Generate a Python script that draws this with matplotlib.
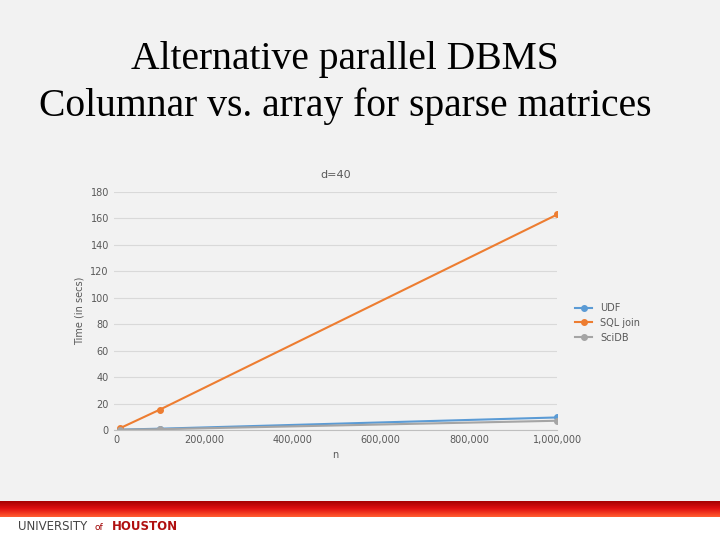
import matplotlib
matplotlib.use("Agg")
import matplotlib.pyplot as plt
from matplotlib.patches import Rectangle
from matplotlib.ticker import FuncFormatter
import numpy as np

# ---------------- data ----------------
n_values = [10000, 100000, 1000000]
udf = [0.3, 1.0, 9.5]
sql_join = [1.5, 15.5, 163]
scidb = [0.2, 0.6, 7.0]

BG = "#f2f2f2"
fig = plt.figure(figsize=(7.2, 5.4), dpi=100)
fig.patch.set_facecolor("white")

# slide background + red band + footer
fig.patches.append(Rectangle((0, 1 - 500 / 540), 1, 500 / 540, transform=fig.transFigure,
                             color=BG, zorder=-3))
band = np.linspace(0, 1, 20)[:, None]
bax = fig.add_axes([0, 1 - 517 / 540, 1, 16 / 540])
bax.imshow(band, aspect="auto", cmap=matplotlib.colors.LinearSegmentedColormap.from_list(
    "r", ["#a00000", "#e01010", "#ff5a30"]))
bax.axis("off")
fig.text(0.025, 1 - 526 / 540, "UNIVERSITY", fontsize=8.5, color="#444", va="center")
fig.text(0.131, 1 - 527 / 540, "of", fontsize=6.5, color="#a00000", va="center")
fig.text(0.155, 1 - 526 / 540, "HOUSTON", fontsize=8.5, color="#b01010",
         fontweight="bold", va="center")

fig.text(0.479, 1 - 60 / 540, "Alternative parallel DBMS", family="Liberation Serif",
         fontsize=28.5, ha="center", va="center")
fig.text(0.479, 1 - 106 / 540, "Columnar vs. array for sparse matrices",
         family="Liberation Serif", fontsize=28.5, ha="center", va="center")

# ---------------- chart ----------------
ax = fig.add_axes([0.158, 1 - 430 / 540, 0.616, 238 / 540])
ax.set_facecolor(BG)
ax.plot(n_values, udf, "-o", color="#5b9bd5", lw=1.5, ms=4, label="UDF")
ax.plot(n_values, sql_join, "-o", color="#ed7d31", lw=1.5, ms=4, label="SQL join")
ax.plot(n_values, scidb, "-o", color="#a5a5a5", lw=1.5, ms=4, label="SciDB")
ax.set_xlim(-5000, 1000000)
ax.set_ylim(0, 180)
ax.set_xticks(range(0, 1000001, 200000))
ax.set_yticks(range(0, 181, 20))
ax.xaxis.set_major_formatter(FuncFormatter(lambda v, p: f"{int(v):,}"))
ax.grid(axis="y", color="#d9d9d9", lw=0.8)
for s in ["top", "right", "left"]:
    ax.spines[s].set_visible(False)
ax.spines["bottom"].set_color("#bfbfbf")
ax.tick_params(length=0, labelsize=7, colors="#595959")
ax.set_title("d=40", fontsize=8, color="#595959", pad=10)
ax.set_xlabel("n", fontsize=7, color="#595959")
ax.set_ylabel("Time (in secs)", fontsize=7, color="#595959")
ax.legend(loc="center left", bbox_to_anchor=(1.02, 0.45), frameon=False,
          fontsize=7, labelcolor="#595959", handlelength=1.8)

fig.savefig("out.png", dpi=100)
